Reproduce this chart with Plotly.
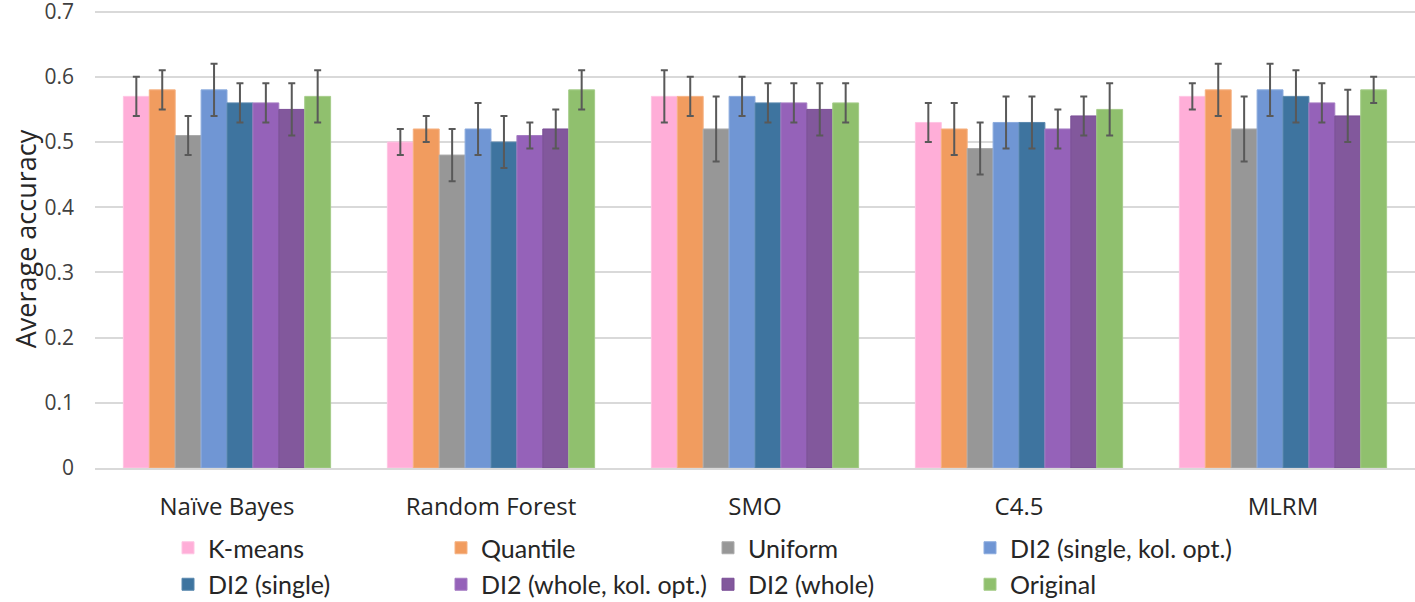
import plotly.graph_objects as go

categories = ["Naïve Bayes", "Random Forest", "SMO", "C4.5", "MLRM"]
series_names = ["K-means", "Quantile", "Uniform", "DI2 (single, kol. opt.)",
                "DI2 (single)", "DI2 (whole, kol. opt.)", "DI2 (whole)", "Original"]

kmeans = [0.57, 0.50, 0.57, 0.53, 0.57]
quantile = [0.58, 0.52, 0.57, 0.52, 0.58]
uniform = [0.51, 0.48, 0.52, 0.49, 0.52]
di2_single_opt = [0.58, 0.52, 0.57, 0.53, 0.58]
di2_single = [0.56, 0.50, 0.56, 0.53, 0.57]
di2_whole_opt = [0.56, 0.51, 0.56, 0.52, 0.56]
di2_whole = [0.55, 0.52, 0.55, 0.54, 0.54]
original = [0.57, 0.58, 0.56, 0.55, 0.58]

err_kmeans = [0.03, 0.02, 0.04, 0.03, 0.02]
err_quantile = [0.03, 0.02, 0.03, 0.04, 0.04]
err_uniform = [0.03, 0.04, 0.05, 0.04, 0.05]
err_di2_single_opt = [0.04, 0.04, 0.03, 0.04, 0.04]
err_di2_single = [0.03, 0.04, 0.03, 0.04, 0.04]
err_di2_whole_opt = [0.03, 0.02, 0.03, 0.03, 0.03]
err_di2_whole = [0.04, 0.03, 0.04, 0.03, 0.04]
err_original = [0.04, 0.03, 0.03, 0.04, 0.02]

y_ticks = [0, 0.1, 0.2, 0.3, 0.4, 0.5, 0.6, 0.7]
y_tick_labels = ["0", "0.1", "0.2", "0.3", "0.4", "0.5", "0.6", "0.7"]

values = [kmeans, quantile, uniform, di2_single_opt, di2_single, di2_whole_opt, di2_whole, original]
errors = [err_kmeans, err_quantile, err_uniform, err_di2_single_opt, err_di2_single,
          err_di2_whole_opt, err_di2_whole, err_original]
colors = ["#FFAED8", "#F19C5F", "#979797", "#7096D4", "#3E749F", "#9562B9", "#82589C", "#90C06E"]
borders = ["#FFC4E3", "#F5B283", "#ABABAB", "#8BABDE", "#5A88AE", "#A57CC3", "#7A4E96", "#A5CC89"]
legend_ids = ["legend", "legend2", "legend3", "legend4", "legend", "legend2", "legend3", "legend4"]

fig = go.Figure()
for i, name in enumerate(series_names):
    fig.add_trace(go.Bar(
        x=categories, y=values[i], name=name,
        marker=dict(color=colors[i], line=dict(color=borders[i], width=1)),
        error_y=dict(type="data", array=errors[i], color="#595959", thickness=2, width=3.5),
        legend=legend_ids[i], legendgroup=name,
    ))

W, H = 1415.0, 602.0
L, T, B = 95.0, 10.0, 468.0
PW, PH = W - L, B - T
def px_to_paper_x(px):
    return (px - L) / PW
def py_to_paper_y(py):
    return (B - py) / PH

legend_font = dict(family="Lato, Open Sans, sans-serif", size=25, color="#262626")
leg_common = dict(orientation="v", font=legend_font, bgcolor="rgba(0,0,0,0)",
                  xref="paper", yref="paper", xanchor="left", yanchor="top",
                  tracegroupgap=1, traceorder="grouped", borderwidth=0)
leg_x = [168, 441, 708, 970]
leg_top = 525
fig.update_layout(
    legend=dict(x=px_to_paper_x(leg_x[0]), y=py_to_paper_y(leg_top), **leg_common),
    legend2=dict(x=px_to_paper_x(leg_x[1]), y=py_to_paper_y(leg_top), **leg_common),
    legend3=dict(x=px_to_paper_x(leg_x[2]), y=py_to_paper_y(leg_top), **leg_common),
    legend4=dict(x=px_to_paper_x(leg_x[3]), y=py_to_paper_y(leg_top), **leg_common),
)

fig.update_layout(
    width=1415, height=602,
    margin=dict(l=L, r=0, t=T, b=H - B, autoexpand=False),
    paper_bgcolor="white", plot_bgcolor="white",
    barmode="group", bargap=0.215, bargroupgap=0,
    showlegend=True,
    font=dict(family="Open Sans, sans-serif", color="#404040"),
    xaxis=dict(
        showgrid=False, showline=True, linecolor="#D9D9D9", linewidth=1.5,
        ticks="", tickfont=dict(size=24, color="#262626"),
        ticklabelstandoff=16, automargin=False,
    ),
    yaxis=dict(
        range=[0, 0.7025], tickvals=y_ticks, ticktext=y_tick_labels,
        showgrid=True, gridcolor="#D9D9D9", gridwidth=1.5,
        zeroline=False, showline=False, ticks="",
        tickfont=dict(size=21, color="#404040"),
        ticklabelstandoff=20, automargin=False, ticklabeloverflow="allow",
        title=dict(text="Average accuracy", font=dict(size=27, color="#262626"), standoff=0),
    ),
)

fig.write_html("out.html", config={"displayModeBar": False},
               post_script="document.body.style.margin='0px';document.body.style.overflow='hidden';")
